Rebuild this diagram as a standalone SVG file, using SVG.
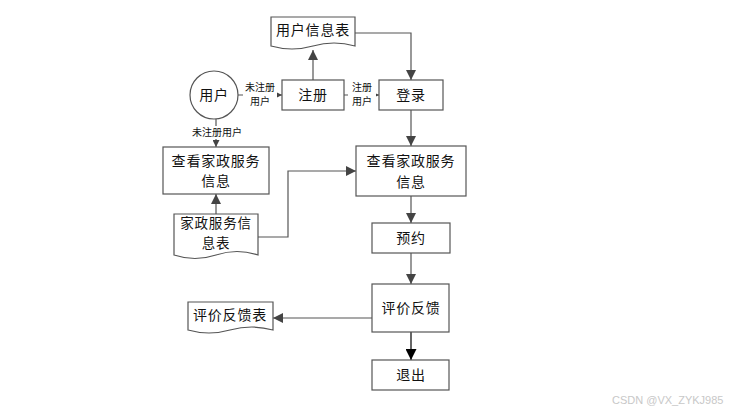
<svg xmlns="http://www.w3.org/2000/svg" width="744" height="414" viewBox="0 0 744 414">
<style>
.box{fill:#fff;stroke:#555;stroke-width:1.2}
.t{font-family:"Microsoft YaHei","Noto Sans CJK SC",sans-serif;font-size:14px;fill:#111;text-anchor:middle;letter-spacing:0.8px}
.s{font-family:"Microsoft YaHei","Noto Sans CJK SC",sans-serif;font-size:10px;fill:#111;text-anchor:middle}
.ln{fill:none;stroke:#555;stroke-width:1.2}
.w{font-family:"Liberation Sans",sans-serif;font-size:11px;fill:#c8c8c8}
</style>
<defs>
<marker id="a" viewBox="0 0 10 10" refX="10" refY="5" markerWidth="10" markerHeight="10" markerUnits="userSpaceOnUse" orient="auto"><path d="M0,0 L10,5 L0,10 Z" fill="#444"/></marker>
<marker id="sa" viewBox="0 0 10 10" refX="10" refY="5" markerWidth="7" markerHeight="7" markerUnits="userSpaceOnUse" orient="auto"><path d="M0,0 L10,5 L0,10 Z" fill="#444"/></marker>
<marker id="b" viewBox="0 0 10 10" refX="10" refY="5" markerWidth="12" markerHeight="11" markerUnits="userSpaceOnUse" orient="auto"><path d="M0,0 L10,5 L0,10 Z" fill="#000"/></marker>
</defs>
<rect width="744" height="414" fill="#fff"/>
<g id="connectors">
<path class="ln" d="M313,80 V50" marker-end="url(#a)"/>
<path class="ln" d="M355,33 H411 V80" marker-end="url(#a)"/>
<path class="ln" d="M238,95 H282" marker-end="url(#sa)"/>
<path class="ln" d="M344,95 H379" marker-end="url(#sa)"/>
<path class="ln" d="M216,119 V147" marker-end="url(#sa)"/>
<path class="ln" d="M216,214 V194" marker-end="url(#a)"/>
<path class="ln" d="M258,237 H288 V171 H356" marker-end="url(#a)"/>
<path class="ln" d="M411,110 V146" marker-end="url(#a)"/>
<path class="ln" d="M411,196 V223" marker-end="url(#a)"/>
<path class="ln" d="M411,253 V284" marker-end="url(#a)"/>
<path class="ln" d="M372,318 H273" marker-end="url(#a)"/>
<path d="M411,332 V360" fill="none" stroke="#000" stroke-width="1.2" marker-end="url(#b)"/>
<rect x="243" y="81" width="34" height="28" fill="#fff"/>
<text class="s" x="260" y="91">未注册</text>
<text class="s" x="260" y="105">用户</text>
<rect x="348" y="81" width="28" height="28" fill="#fff"/>
<text class="s" x="362" y="91">注册</text>
<text class="s" x="362" y="105">用户</text>
<rect x="187" y="126" width="60" height="13" fill="#fff"/>
<text class="s" x="217" y="136">未注册用户</text>
</g>
<g id="userinfo">
<path class="box" d="M271,17 H355 V46 Q334,40 313,46 Q292,52 271,46 Z"/>
<text class="t" x="313" y="35">用户信息表</text>
</g>
<g id="user">
<circle class="box" cx="214" cy="95" r="24"/>
<text class="t" x="214" y="100">用户</text>
</g>
<g id="register">
<rect class="box" x="282" y="80" width="62" height="30"/>
<text class="t" x="313" y="100">注册</text>
</g>
<g id="login">
<rect class="box" x="379" y="80" width="64" height="30"/>
<text class="t" x="411" y="100">登录</text>
</g>
<g id="view1">
<rect class="box" x="163" y="147" width="106" height="47"/>
<text class="t" x="216" y="166">查看家政服务</text>
<text class="t" x="216" y="186">信息</text>
</g>
<g id="serviceinfo">
<path class="box" d="M174,214 H258 V255 Q237,248 216,255 Q195,262 174,255 Z"/>
<text class="t" x="216" y="228" style="font-size:13.5px">家政服务信</text>
<text class="t" x="216" y="248" style="font-size:13.5px">息表</text>
</g>
<g id="view2">
<rect class="box" x="356" y="146" width="110" height="50"/>
<text class="t" x="411" y="166">查看家政服务</text>
<text class="t" x="411" y="187">信息</text>
</g>
<g id="reserve">
<rect class="box" x="372" y="223" width="78" height="30"/>
<text class="t" x="411" y="243">预约</text>
</g>
<g id="feedback">
<rect class="box" x="372" y="284" width="77" height="48"/>
<text class="t" x="411" y="313">评价反馈</text>
</g>
<g id="feedbacktable">
<path class="box" d="M188,302 H273 V330 Q252,324 230,330 Q209,336 188,330 Z"/>
<text class="t" x="230" y="320">评价反馈表</text>
</g>
<g id="exit">
<rect class="box" x="372" y="360" width="77" height="30"/>
<text class="t" x="411" y="380">退出</text>
</g>
<text class="w" x="612" y="404">CSDN @VX_ZYKJ985</text>
</svg>
